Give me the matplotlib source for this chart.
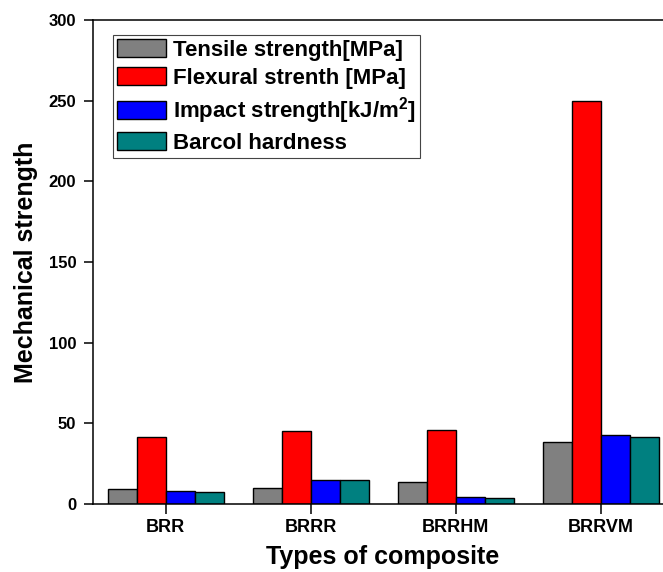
import matplotlib
matplotlib.use("Agg")
import matplotlib.pyplot as plt
import numpy as np

categories = ["BRR", "BRRR", "BRRHM", "BRRVM"]
series_names = ["Tensile strength[MPa]", "Flexural strenth [MPa]",
                r"Impact strength[kJ/m$^{\mathbf{2}}$]", "Barcol hardness"]
tensile = [9.3, 9.9, 13.4, 38.4]
flexural = [41.5, 45.4, 45.9, 249.5]
impact = [8.2, 14.9, 4.3, 42.8]
barcol = [7.4, 14.9, 3.7, 41.7]
colors = ["#808080", "#FF0000", "#0000FF", "#008080"]
yticks = [0, 50, 100, 150, 200, 250, 300]

plt.rcParams["font.family"] = ["Liberation Sans", "DejaVu Sans"]
plt.rcParams["font.weight"] = "bold"
plt.rcParams["mathtext.fontset"] = "custom"
plt.rcParams["mathtext.bf"] = "Liberation Sans:bold"
plt.rcParams["mathtext.rm"] = "Liberation Sans:bold"
plt.rcParams["mathtext.default"] = "bf"

W, H = 663, 572
fig = plt.figure(figsize=(W / 100, H / 100), dpi=100)
left, right, top, bottom = 93, 673.5, 20, 504
ax = fig.add_axes([left / W, 1 - bottom / H, (right - left) / W, (bottom - top) / H])

x = np.arange(len(categories))
bw = 0.2
data = [tensile, flexural, impact, barcol]
for i, (vals, name, c) in enumerate(zip(data, series_names, colors)):
    ax.bar(x + (i - 1.5) * bw, vals, width=bw, color=c, edgecolor="black",
           linewidth=1.0, label=name)

ax.set_xlim(-0.5, 3.5)
ax.set_ylim(0, 300)
ax.set_yticks(yticks)
ax.set_xticks(x)
ax.set_xticklabels(categories)
ax.tick_params(axis="y", direction="out", length=6.5, width=1.1, pad=5.5, labelsize=12)
ax.tick_params(axis="x", direction="out", length=7, width=1.1, pad=4, labelsize=13)
for lab in ax.get_xticklabels() + ax.get_yticklabels():
    lab.set_fontweight("bold")
for s in ["left", "bottom", "top"]:
    ax.spines[s].set_linewidth(1.1)
ax.spines["right"].set_visible(False)

ax.set_ylabel("Mechanical strength", fontsize=18, fontweight="bold", labelpad=8)
ax.set_xlabel("Types of composite", fontsize=18, fontweight="bold")
ax.xaxis.set_label_coords((383 - left) / (right - left), -(545 - bottom) / (bottom - top))

leg = ax.legend(loc="upper left", bbox_to_anchor=(113 / W, 1 - 35 / H),
                bbox_transform=fig.transFigure, borderaxespad=0,
                prop={"size": 16, "weight": "bold"}, handlelength=2.2,
                handleheight=0.85, labelspacing=0.28, handletextpad=0.3,
                borderpad=0.2, fancybox=False, framealpha=1)
leg.get_frame().set_edgecolor("#444444")
leg.get_frame().set_linewidth(0.8)

fig.savefig("out.png", dpi=100)
